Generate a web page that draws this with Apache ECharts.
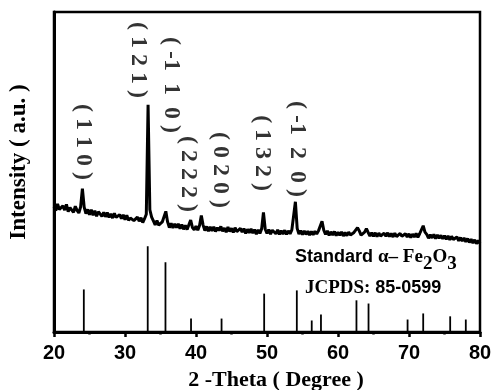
<!DOCTYPE html>
<html><head><meta charset="utf-8">
<script src="https://cdn.jsdelivr.net/npm/echarts@6/dist/echarts.min.js"></script>
<style>html,body{margin:0;padding:0;background:#fff}#c{width:492px;height:390px}</style>
</head><body><div id="c"></div>
<script>
// measured XRD scan: 20..80 deg, step 0.25 deg
const scanStart = 20, scanStep = 0.25;
const measured = [
  39.1, 37.9, 40.0, 38.3, 37.7, 39.4, 38.1, 39.9, 37.6, 38.9,
  38.9, 37.4, 39.3, 38.0, 37.2, 39.1, 44.8, 39.0, 37.0, 38.3,
  36.6, 38.2, 36.5, 37.9, 36.2, 37.6, 38.0, 36.1, 37.4, 36.0,
  37.3, 35.8, 36.9, 35.6, 37.1, 35.8, 35.2, 36.7, 35.4, 36.6,
  35.1, 36.5, 34.9, 35.6, 36.2, 34.8, 34.5, 35.9, 34.6, 35.7,
  34.2, 35.4, 36.8, 71.0, 38.2, 35.9, 34.7, 33.5, 34.8, 33.4,
  33.0, 34.4, 35.0, 37.7, 34.4, 32.6, 34.0, 32.5, 33.8, 32.6,
  33.8, 32.3, 33.6, 32.1, 33.3, 32.0, 33.5, 35.0, 32.6, 31.9,
  33.1, 31.8, 33.3, 36.4, 33.4, 31.7, 33.0, 31.5, 32.9, 31.6,
  32.9, 31.4, 32.6, 31.7, 33.0, 31.5, 32.5, 31.2, 32.8, 31.4,
  32.4, 31.1, 32.6, 31.4, 30.9, 32.4, 31.2, 32.3, 30.8, 32.1,
  31.0, 32.2, 30.9, 32.0, 30.6, 31.9, 30.8, 32.3, 37.4, 32.1,
  30.8, 32.0, 30.6, 31.8, 32.1, 30.7, 31.9, 30.5, 31.7, 30.6,
  31.8, 30.5, 31.6, 30.7, 31.9, 31.5, 40.7, 32.4, 30.6, 31.7,
  30.4, 31.6, 30.5, 31.5, 30.3, 31.4, 30.4, 31.5, 30.6, 31.6,
  31.9, 34.6, 31.8, 30.5, 31.6, 30.2, 31.3, 30.3, 31.4, 30.1,
  31.2, 30.2, 31.3, 30.0, 31.1, 30.1, 31.2, 30.3, 29.9, 31.1,
  31.5, 32.6, 31.6, 30.3, 29.9, 31.2, 32.3, 31.1, 30.0, 31.0,
  29.9, 31.0, 29.8, 30.9, 30.0, 29.7, 30.9, 29.9, 31.0, 29.8,
  30.8, 29.7, 30.9, 29.8, 29.6, 30.8, 29.9, 29.6, 30.7, 29.7,
  30.7, 29.5, 30.6, 29.7, 30.8, 29.6, 30.7, 31.3, 33.2, 31.2,
  30.5, 29.3, 30.4, 29.4, 30.5, 29.2, 30.3, 29.3, 30.2, 29.1,
  30.1, 29.0, 30.0, 28.8, 29.9, 28.9, 28.6, 29.7, 28.5, 29.5,
  28.4, 29.4, 28.2, 29.2, 28.0, 29.0, 27.8, 28.8, 27.6, 28.6,
  27.7
];
// standard reference pattern (JCPDS 85-0599)
const refTheta = [24.2, 33.2, 35.7, 39.3, 43.6, 49.6, 54.2, 56.3, 57.6, 62.6, 64.3, 69.8, 72.0, 75.8, 78.0];
const refIntensity = [13.3, 26.8, 21.8, 4.2, 4.2, 12.0, 13.0, 3.6, 5.5, 9.9, 8.9, 3.9, 5.8, 4.9, 3.9];
// hkl labels
const hklText = ['( 1 1 0 )', '( 1 2 1 )', '( -1  1  0 )', '( 2 2 2 )', '( 0 2 0 )', '( 1 3 2 )', '( -1  2  0 )'];
const hklTheta = [24.16, 31.83, 36.48, 38.87, 43.38, 49.30, 54.23];
const hklPos = [59.4, 85.0, 77.2, 49.4, 50.6, 55.9, 57.2];
const xTicks = [20, 30, 40, 50, 60, 70, 80];

const lineData = measured.map((v, i) => [scanStart + i * scanStep, v]);
const refData = refTheta.map((t, i) => [t, refIntensity[i]]);
const hklData = hklTheta.map((t, i) => [t, hklPos[i], hklText[i]]);

const chart = echarts.init(document.getElementById('c'), null, {renderer: 'canvas'});
chart.setOption({
  animation: false,
  backgroundColor: '#fff',
  grid: {left: 54, right: 12, top: 12, bottom: 58, containLabel: false, outerBoundsMode: 'none',
         show: true, borderColor: '#000', borderWidth: 2.5},
  xAxis: {
    type: 'value', min: xTicks[0], max: xTicks[xTicks.length - 1], interval: 10,
    axisLine: {lineStyle: {color: '#000', width: 3}},
    axisTick: {show: true, inside: false, length: 5, lineStyle: {color: '#000', width: 2.5}},
    minorTick: {show: true, splitNumber: 2, length: 2.5, lineStyle: {color: '#000', width: 2.5}},
    splitLine: {show: false}, minorSplitLine: {show: false},
    axisLabel: {color: '#000', fontFamily: 'Liberation Sans', fontWeight: 'bold', fontSize: 20, margin: 11},
    name: '2 -Theta ( Degree )', nameLocation: 'middle', nameGap: 37,
    nameTextStyle: {color: '#000', fontFamily: 'Liberation Serif', fontWeight: 'bold', fontSize: 22, padding: [0, 0, 0, 18]}
  },
  yAxis: {
    type: 'value', min: 0, max: 100,
    axisLine: {show: true, lineStyle: {color: '#000', width: 3}},
    axisTick: {show: false}, axisLabel: {show: false}, splitLine: {show: false},
    name: 'Intensity ( a.u. )', nameLocation: 'middle', nameGap: 23,
    nameTextStyle: {color: '#000', fontFamily: 'Liberation Serif', fontWeight: 'bold', fontSize: 23, padding: [0, 0, 0, 20]}
  },
  series: [
    {type: 'line', data: lineData, showSymbol: false, symbol: 'none',
     lineStyle: {color: '#000', width: 3}, z: 3},
    {type: 'bar', data: refData, barWidth: 1.8, itemStyle: {color: '#000'}, z: 2},
    {type: 'scatter', data: hklData, symbolSize: 0, z: 4,
     label: {show: true, position: 'inside', rotate: -90, color: '#000',
       fontFamily: 'Liberation Serif', fontWeight: 'bold', fontSize: 24,
       formatter: p => p.data[2]}}
  ],
  graphic: [
    {type: 'text', left: 295, top: 248, z: 10, style: {
      text: '{a|Standard }{g|α– Fe}{s|2}{g|O}{s|3}',
      rich: {
        a: {fontFamily: 'Liberation Sans', fontWeight: 'bold', fontSize: 18, fill: '#000', verticalAlign: 'top', lineHeight: 20},
        g: {fontFamily: 'Liberation Serif', fontWeight: 'bold', fontSize: 19, fill: '#000', verticalAlign: 'top', lineHeight: 20},
        s: {fontFamily: 'Liberation Serif', fontWeight: 'bold', fontSize: 19, fill: '#000', verticalAlign: 'top', lineHeight: 27, padding: [7, 0, 0, 0]}
      }}},
    {type: 'text', left: 305, top: 279, z: 10, style: {
      text: '{g|JCPDS: }{a|85-0599}',
      rich: {
        g: {fontFamily: 'Liberation Serif', fontWeight: 'bold', fontSize: 19, fill: '#000', verticalAlign: 'middle'},
        a: {fontFamily: 'Liberation Sans', fontWeight: 'bold', fontSize: 18, fill: '#000', verticalAlign: 'middle'}
      }}}
  ]
});
</script></body></html>
